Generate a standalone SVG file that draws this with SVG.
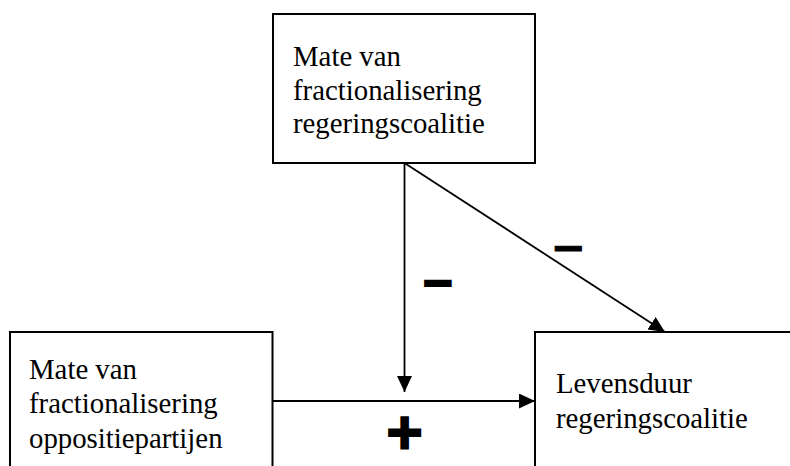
<svg xmlns="http://www.w3.org/2000/svg" width="790" height="466" viewBox="0 0 790 466">
<style>
.box{fill:#fff;stroke:#000;stroke-width:2}
.lbl{font-family:"Liberation Serif","Times New Roman",serif;font-size:28.8px;fill:#000}
.edge{stroke:#000;stroke-width:1.8;fill:none}
.sign{font-family:"DejaVu Sans",sans-serif;font-weight:bold;fill:#000;stroke:#000;text-anchor:middle}
</style>
<defs>
<marker id="arr" markerUnits="userSpaceOnUse" markerWidth="17" markerHeight="16" refX="16" refY="7.5" orient="auto">
<path d="M0,0 L16,7.5 L0,15 z" fill="#000"/>
</marker>
</defs>
<rect width="790" height="466" fill="#fff"/>
<g id="node-top">
<rect class="box" x="273" y="14" width="262" height="149"/>
<text class="lbl" x="293" y="65.7">Mate van</text>
<text class="lbl" x="293" y="99.5">fractionalisering</text>
<text class="lbl" x="293" y="133">regeringscoalitie</text>
</g>
<g id="node-left">
<rect class="box" x="10" y="332" width="262.5" height="150"/>
<text class="lbl" x="29" y="379">Mate van</text>
<text class="lbl" x="29" y="413">fractionalisering</text>
<text class="lbl" x="29" y="447.5">oppositiepartijen</text>
</g>
<g id="node-right">
<rect class="box" x="535" y="332" width="270" height="150"/>
<text class="lbl" x="556" y="393">Levensduur</text>
<text class="lbl" x="556" y="428">regeringscoalitie</text>
</g>
<g id="connectors">
<line class="edge" x1="404.5" y1="163" x2="404.5" y2="392" marker-end="url(#arr)"/>
<line class="edge" x1="272.5" y1="401" x2="535" y2="401" marker-end="url(#arr)"/>
<line class="edge" x1="404.5" y1="163" x2="665" y2="332" marker-end="url(#arr)"/>
<text class="sign" x="438" y="296" font-size="40" stroke-width="2.5">−</text>
<text class="sign" x="568" y="261.5" font-size="42" stroke-width="1">−</text>
<text class="sign" x="404.5" y="448" font-size="48" stroke-width="3">+</text>
</g>
</svg>
